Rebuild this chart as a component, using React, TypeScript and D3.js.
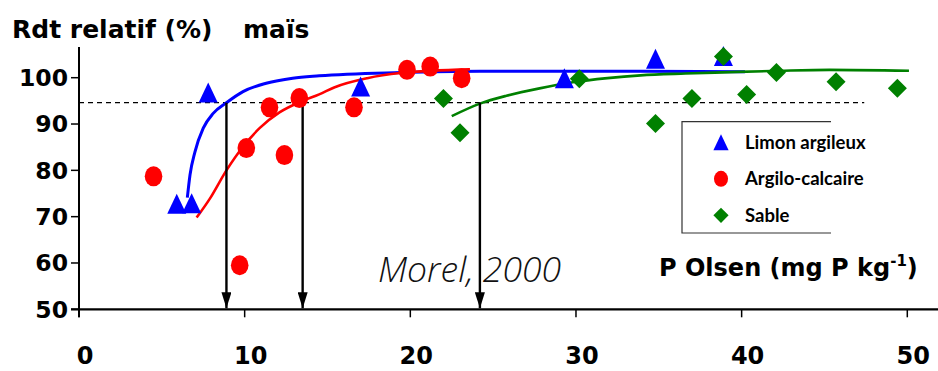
import React from 'react'
import * as d3 from 'd3'

const W = 938
const H = 371

// axes
const X_TICKS = [0, 10, 20, 30, 40, 50]
const Y_TICKS = [50, 60, 70, 80, 90, 100]
const THRESHOLD = 94.6
const ARROW_X = [8.9, 13.5, 24.2]

// points: [P Olsen, rdt relatif]
const limon: [number, number][] = [
  [5.9, 72.8], [6.8, 72.9], [7.8, 96.8], [17.0, 98.1], [29.3, 99.9], [34.8, 104.1], [38.9, 104.7],
]
const argilo: [number, number][] = [
  [4.5, 78.7], [9.7, 59.5], [10.1, 84.8], [11.5, 93.6], [12.4, 83.3], [13.3, 95.6],
  [16.6, 93.6], [19.8, 101.7], [21.2, 102.4], [23.1, 99.9],
]
const sable: [number, number][] = [
  [22.0, 95.5], [23.0, 88.1], [30.2, 99.8], [34.8, 90.1], [37.0, 95.5], [38.9, 104.6],
  [40.3, 96.4], [42.1, 101.1], [45.7, 99.1], [49.4, 97.7],
]

// fitted curves
const limonFit: [number, number][] = [
  [6.54, 74.1], [6.7, 79.0], [7.0, 84.0], [7.5, 89.1], [8.1, 92.3], [8.9, 94.6], [9.9, 97.0],
  [11.3, 98.8], [12.9, 99.9], [14.5, 100.4], [19.4, 101.1], [24.2, 101.4], [33.9, 101.4], [40.2, 101.3],
]
const argiloFit: [number, number][] = [
  [7.1, 69.8], [7.9, 73.9], [8.9, 80.0], [9.9, 85.1], [10.9, 89.1], [12.1, 92.5], [13.5, 95.0],
  [14.5, 96.4], [15.4, 97.9], [17.4, 99.9], [19.4, 101.0], [23.6, 101.8],
]
const sableFit: [number, number][] = [
  [22.5, 91.7], [24.2, 94.4], [25.8, 96.1], [27.8, 97.7], [29.8, 99.0], [31.9, 99.9],
  [33.9, 100.5], [36.6, 100.9], [39.3, 101.2], [42.3, 101.5], [45.3, 101.7], [50.1, 101.5],
]

const LEGEND = [
  { label: 'Limon argileux', shape: 'triangle', color: '#0000ff' },
  { label: 'Argilo-calcaire', shape: 'circle', color: '#ff0000' },
  { label: 'Sable', shape: 'diamond', color: '#008000' },
]

const BOLD = "'DejaVu Sans', sans-serif"

function Marker({ shape, cx, cy, color, s = 1 }: { shape: string; cx: number; cy: number; color: string; s?: number }) {
  if (shape === 'triangle') {
    const w = 9.5 * s, h = 10 * s
    return <path d={`M${cx},${cy - h}L${cx + w},${cy + h}L${cx - w},${cy + h}Z`} fill={color} />
  }
  if (shape === 'circle') return <ellipse cx={cx} cy={cy} rx={8.8 * s} ry={10 * s} fill={color} />
  const r = 9.5 * s
  return <path d={`M${cx},${cy - r}L${cx + r},${cy}L${cx},${cy + r}L${cx - r},${cy}Z`} fill={color} />
}

export default function App() {
  const x = d3.scaleLinear().domain([0, 50]).range([79, 907.3])
  const y = d3.scaleLinear().domain([50, 100]).range([309.3, 77.7])
  const line = d3
    .line<[number, number]>()
    .x((d) => x(d[0]))
    .y((d) => y(d[1]))
    .curve(d3.curveMonotoneX)

  const fits = [
    { pts: limonFit, color: '#0000ff', w: 3 },
    { pts: argiloFit, color: '#ff0000', w: 2.6 },
    { pts: sableFit, color: '#008000', w: 2.6 },
  ]

  return (
    <svg width={W} height={H} style={{ position: 'absolute', left: 0, top: 0, background: '#fff' }}>
      <defs>
        <marker id="arr" viewBox="0 0 16 10" refX="16" refY="5" markerWidth="16" markerHeight="10" markerUnits="userSpaceOnUse" orient="auto">
          <path d="M0,0L16,5L0,10Z" fill="#000" />
        </marker>
      </defs>

      {/* title */}
      <text x={12} y={38} fontFamily={BOLD} fontWeight="bold" fontSize={25}>
        Rdt relatif (%)
      </text>
      <text x={243} y={38} fontFamily={BOLD} fontWeight="bold" fontSize={25}>
        maïs
      </text>

      {/* threshold */}
      <line x1={x(0)} x2={x(47.4)} y1={y(THRESHOLD)} y2={y(THRESHOLD)} stroke="#000" strokeWidth={1.2} strokeDasharray="5,4" />

      {/* fits */}
      {fits.map((f, i) => (
        <path key={i} d={line(f.pts) || ''} fill="none" stroke={f.color} strokeWidth={f.w} />
      ))}

      {/* arrows */}
      {ARROW_X.map((v) => (
        <line key={v} x1={x(v)} x2={x(v)} y1={y(THRESHOLD)} y2={y(50) - 1} stroke="#000" strokeWidth={2.4} markerEnd="url(#arr)" />
      ))}

      {/* points */}
      {limon.map((d, i) => (
        <Marker key={`l${i}`} shape="triangle" cx={x(d[0])} cy={y(d[1])} color="#0000ff" />
      ))}
      {argilo.map((d, i) => (
        <Marker key={`a${i}`} shape="circle" cx={x(d[0])} cy={y(d[1])} color="#ff0000" />
      ))}
      {sable.map((d, i) => (
        <Marker key={`s${i}`} shape="diamond" cx={x(d[0])} cy={y(d[1])} color="#008000" />
      ))}

      {/* axes */}
      <line x1={x(0)} x2={x(0)} y1={47} y2={y(50) + 8} stroke="#000" strokeWidth={2} />
      <line x1={x(0) - 8} x2={W} y1={y(50)} y2={y(50)} stroke="#000" strokeWidth={2.2} />
      {Y_TICKS.map((t) => (
        <g key={`y${t}`}>
          <line x1={x(0) - 8} x2={x(0)} y1={y(t)} y2={y(t)} stroke="#000" strokeWidth={1.5} />
          <text x={x(0) - 11} y={y(t)} dy="0.36em" textAnchor="end" fontFamily={BOLD} fontWeight="bold" fontSize={23.5}>
            {t}
          </text>
        </g>
      ))}
      {X_TICKS.map((t) => (
        <g key={`x${t}`}>
          <line x1={x(t)} x2={x(t)} y1={y(50) + 0} y2={y(50) + 8} stroke="#000" strokeWidth={1.5} />
          <text x={x(t) + 6} y={364} textAnchor="middle" fontFamily={BOLD} fontWeight="bold" fontSize={24}>
            {t}
          </text>
        </g>
      ))}

      {/* annotations */}
      <text x={378} y={282} fontFamily="'Open Sans', sans-serif" fontStyle="italic" fontWeight={300} fontSize={35.5} fill="#111">
        Morel, 2000
      </text>
      <text x={659} y={276} fontFamily={BOLD} fontWeight="bold" fontSize={24}>
        P Olsen (mg P kg<tspan dy={-10} fontSize={15}>-1</tspan>
        <tspan dy={10}>)</tspan>
      </text>

      {/* legend */}
      <path d="M831,121.7H682V233H831" fill="none" stroke="#333" strokeWidth={1.2} />
      {LEGEND.map((l, i) => {
        const cy = 142.3 + i * 36.5
        return (
          <g key={l.label}>
            <Marker shape={l.shape} cx={721} cy={cy} color={l.color} s={0.8} />
            <text x={745} y={cy} dy="0.36em" fontFamily="Lato, sans-serif" fontWeight="bold" fontSize={18.5}>
              {l.label}
            </text>
          </g>
        )
      })}
    </svg>
  )
}
